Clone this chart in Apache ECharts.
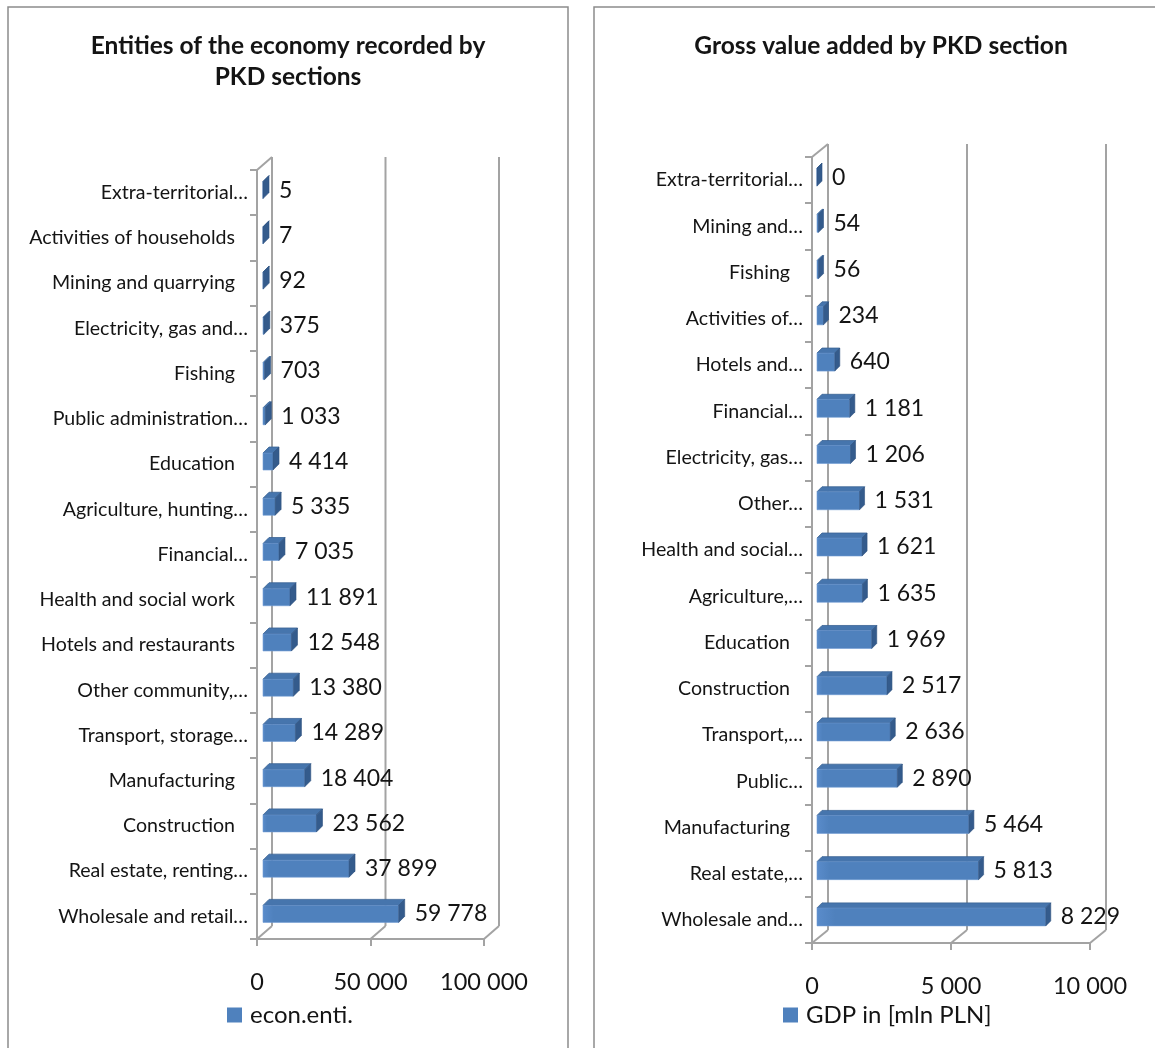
<!DOCTYPE html>
<html>
<head>
<meta charset="utf-8">
<script src="https://cdn.jsdelivr.net/npm/echarts@6/dist/echarts.min.js"></script>
<style>
  html, body { margin: 0; padding: 0; background: #fff; }
  #chart { width: 1155px; height: 1048px; }
</style>
</head>
<body>
<div id="chart"></div>
<script>
// Entities of the economy by PKD section (top to bottom)
const entityCategories = ['Extra-territorial…', 'Activities of households', 'Mining and quarrying',
  'Electricity, gas and…', 'Fishing', 'Public administration…', 'Education', 'Agriculture, hunting…',
  'Financial…', 'Health and social work', 'Hotels and restaurants', 'Other community,…',
  'Transport, storage…', 'Manufacturing', 'Construction', 'Real estate, renting…', 'Wholesale and retail…'];
const entityValues = [5, 7, 92, 375, 703, 1033, 4414, 5335, 7035, 11891, 12548, 13380, 14289, 18404, 23562, 37899, 59778];
const entityTicks = [0, 50000, 100000];

// Gross value added by PKD section, mln PLN (top to bottom)
const gvaCategories = ['Extra-territorial…', 'Mining and…', 'Fishing', 'Activities of…', 'Hotels and…',
  'Financial…', 'Electricity, gas…', 'Other…', 'Health and social…', 'Agriculture,…', 'Education',
  'Construction', 'Transport,…', 'Public…', 'Manufacturing', 'Real estate,…', 'Wholesale and…'];
const gvaValues = [0, 54, 56, 234, 640, 1181, 1206, 1531, 1621, 1635, 1969, 2517, 2636, 2890, 5464, 5813, 8229];
const gvaTicks = [0, 5000, 10000];

const FONT = 'Lato, "Open Sans", sans-serif';
const AXIS_GRAY = '#a3a3a3';
const TEXT = '#141414';
const CAT_SIZE = 19.6;

function fmt(n) {
  return String(n).replace(/\B(?=(\d{3})+(?!\d))/g, ' ');
}

// Per-panel geometry: front plane of the 3D box, wall depth and bar depth
const panels = [
  {
    name: 'econ.enti.', categories: entityCategories, values: entityValues, ticks: entityTicks,
    grid: { left: 257, top: 170, width: 227, height: 769 },
    wall: [15, -13], barOff: [6, -2.5], barDepth: [6, -6], barH: 17,
    legend: { left: 227, top: 1003 }
  },
  {
    name: 'GDP in [mln PLN]', categories: gvaCategories, values: gvaValues, ticks: gvaTicks,
    grid: { left: 812, top: 157, width: 278, height: 786 },
    wall: [16, -13], barOff: [5, -3], barDepth: [5, -5], barH: 18,
    legend: { left: 783, top: 1003 }
  }
];

const grids = [], xAxes = [], yAxes = [], series = [], legends = [];

panels.forEach((p, k) => {
  grids.push(Object.assign({ containLabel: false }, p.grid));

  xAxes.push({
    type: 'value', gridIndex: k, min: p.ticks[0], max: p.ticks[p.ticks.length - 1],
    interval: p.ticks[1] - p.ticks[0],
    axisLine: { show: true, lineStyle: { color: AXIS_GRAY, width: 2 } },
    axisTick: { show: true, length: 7, lineStyle: { color: AXIS_GRAY, width: 2 } },
    splitLine: { show: false },
    axisLabel: { margin: 31, fontSize: 23.5, color: TEXT, fontFamily: FONT, formatter: v => fmt(v) }
  });

  yAxes.push({
    type: 'category', gridIndex: k, inverse: true, data: p.categories,
    axisLine: { show: true, lineStyle: { color: AXIS_GRAY, width: 2 } },
    axisTick: { show: true, length: 7, lineStyle: { color: AXIS_GRAY, width: 2 } },
    axisLabel: {
      margin: 9, fontSize: CAT_SIZE, color: TEXT, fontFamily: FONT,
      formatter: v => v.endsWith('…') ? '{e|' + v + '}' : '{n|' + v + '}',
      rich: {
        e: { fontSize: CAT_SIZE, fontFamily: FONT, color: TEXT },
        n: { fontSize: CAT_SIZE, fontFamily: FONT, color: TEXT, padding: [0, 13, 0, 0] }
      }
    }
  });

  // Back wall, side wall edge and floor of the 3D box
  series.push({
    type: 'custom', xAxisIndex: k, yAxisIndex: k, silent: true, z: 1,
    data: [[0, 0]],
    renderItem: (params, api) => {
      const cs = params.coordSys;
      const [dx, dy] = p.wall;
      const bottom = cs.y + cs.height;
      const ls = { stroke: AXIS_GRAY, lineWidth: 2, fill: null };
      const children = [{
        type: 'line', shape: { x1: cs.x, y1: cs.y, x2: cs.x + dx, y2: cs.y + dy }, style: ls
      }];
      p.ticks.forEach(t => {
        const x = api.coord([t, 0])[0];
        children.push({ type: 'line', shape: { x1: x + dx, y1: cs.y + dy, x2: x + dx, y2: bottom + dy }, style: ls });
        children.push({ type: 'line', shape: { x1: x, y1: bottom, x2: x + dx, y2: bottom + dy }, style: ls });
      });
      return { type: 'group', children };
    }
  });

  // 3D bars with value labels
  series.push({
    name: p.name, type: 'custom', xAxisIndex: k, yAxisIndex: k, z: 3,
    itemStyle: { color: '#4f81bd' },
    data: p.values.map((v, i) => [v, i]),
    renderItem: (params, api) => {
      const v = api.value(0), i = api.value(1);
      const base = api.coord([0, i]);
      const end = api.coord([v, i]);
      const [ox, oy] = p.barOff;
      const [dx, dy] = p.barDepth;
      const x0 = base[0] + ox, x1 = end[0] + ox;
      const yc = base[1] + oy;
      const t = yc - p.barH / 2, b = yc + p.barH / 2;
      return {
        type: 'group',
        children: [
          {
            type: 'polygon',
            shape: { points: [[x0, t], [x1, t], [x1 + dx, t + dy], [x0 + dx, t + dy]] },
            style: { fill: '#4675ad', stroke: '#3a6394', lineWidth: 0.8 }
          },
          {
            type: 'rect',
            shape: { x: x0, y: t, width: Math.max(x1 - x0, 0), height: p.barH },
            style: {
              fill: new echarts.graphic.LinearGradient(0, 0, 1, 0, [
                { offset: 0, color: '#5a8ccb' }, { offset: 0.08, color: '#4f81bd' }, { offset: 1, color: '#4f81bd' }
              ]),
              stroke: '#6f9bd3', lineWidth: 0.6
            }
          },
          {
            type: 'polygon',
            shape: { points: [[x1, t], [x1 + dx, t + dy], [x1 + dx, b + dy], [x1, b]] },
            style: { fill: '#345b8c', stroke: '#2f5380', lineWidth: 0.6 }
          },
          {
            type: 'text',
            x: x1 + dx + 10, y: yc,
            style: { text: fmt(v), fontSize: 23, fontFamily: FONT, fill: TEXT, verticalAlign: 'middle', align: 'left' }
          }
        ]
      };
    }
  });

  legends.push({
    data: [p.name], left: p.legend.left, top: p.legend.top, icon: 'rect', padding: 0,
    itemWidth: 15, itemHeight: 15, itemGap: 10, selectedMode: false,
    textStyle: { fontSize: 24, fontFamily: FONT, color: TEXT, padding: [0, 0, 0, 3] }
  });
});

const chart = echarts.init(document.getElementById('chart'), null, { renderer: 'canvas' });
chart.setOption({
  animation: false,
  backgroundColor: '#fff',
  grid: grids,
  xAxis: xAxes,
  yAxis: yAxes,
  legend: legends,
  series: series,
  graphic: [
    { type: 'rect', shape: { x: 8, y: 7, width: 560, height: 1060 }, style: { fill: null, stroke: '#8c8c8c', lineWidth: 1.5 }, silent: true },
    { type: 'rect', shape: { x: 594, y: 7, width: 570, height: 1060 }, style: { fill: null, stroke: '#8c8c8c', lineWidth: 1.5 }, silent: true },
    {
      type: 'text', x: 288, y: 61.5,
      style: { text: 'Entities of the economy recorded by\nPKD sections', align: 'center', verticalAlign: 'middle',
        fontSize: 24.5, fontWeight: 'bold', fontFamily: FONT, fill: TEXT, lineHeight: 31 }
    },
    {
      type: 'text', x: 881, y: 46,
      style: { text: 'Gross value added by PKD section', align: 'center', verticalAlign: 'middle',
        fontSize: 24.5, fontWeight: 'bold', fontFamily: FONT, fill: TEXT }
    }
  ]
});
</script>
</body>
</html>
